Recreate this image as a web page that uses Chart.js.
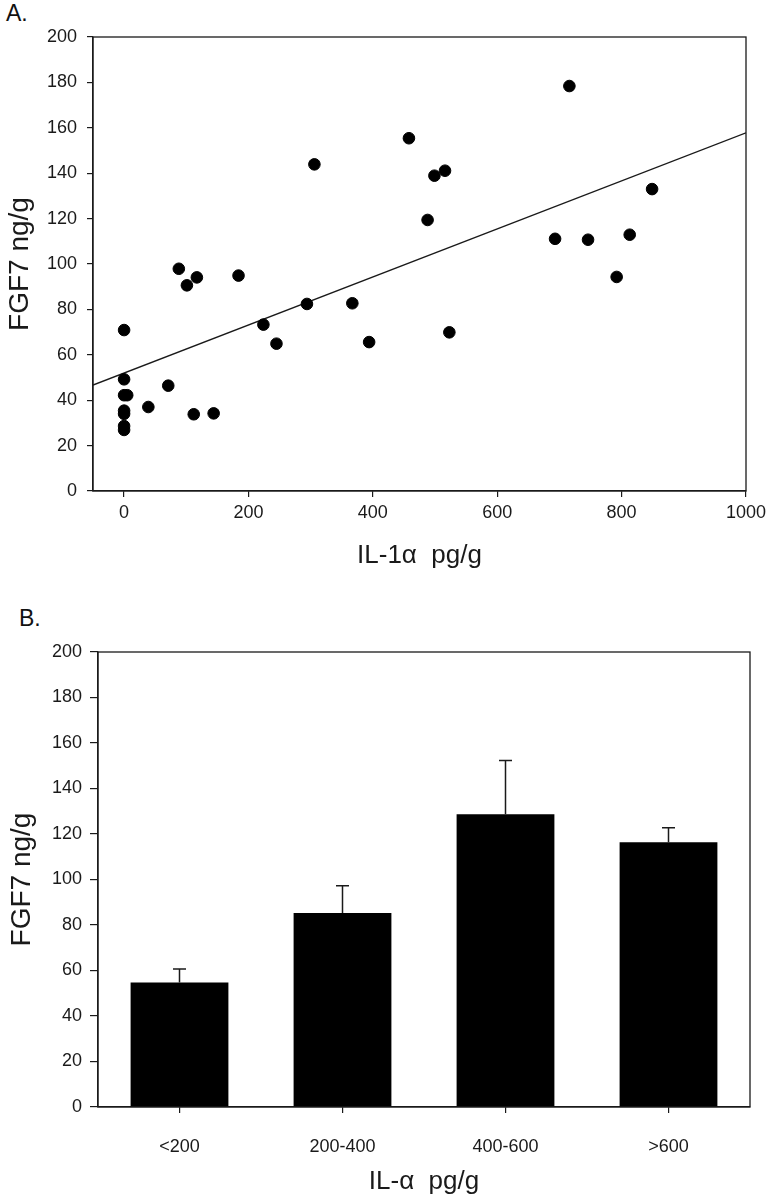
<!DOCTYPE html>
<html>
<head>
<meta charset="utf-8">
<script src="https://cdn.jsdelivr.net/npm/chart.js@4"></script>
<style>
  body { margin: 0; background: #fff; }
  #wrap { position: relative; width: 773px; height: 1199px; }
  canvas { position: absolute; left: 0; }
  .tag { position: absolute; font: 23px "Liberation Sans", Arial, sans-serif; line-height: 1; color: #111; }
</style>
</head>
<body>
<div id="wrap">
  <div class="tag" style="left:6px; top:2px">A.</div>
  <canvas id="chartA" width="773" height="590" style="top:0"></canvas>
  <div class="tag" style="left:19px; top:607px">B.</div>
  <canvas id="chartB" width="773" height="609" style="top:590px"></canvas>
</div>
<script>
// ── Panel A: IL-1α vs FGF7 scatter ──────────────────────────────────────────
const il1a = [0, 0, 0, 5, 0, 0, 0, 0,
              39, 71, 88, 101, 117, 112, 144, 184, 224, 245, 294, 306, 367, 394,
              458, 488, 499, 516, 523, 693, 716, 746, 792, 813, 849];
const fgf7 = [70.9, 49.2, 42.2, 42.2, 35.4, 34, 28.6, 26.9,
              37, 46.4, 97.9, 90.6, 94.1, 33.8, 34.2, 94.9, 73.3, 64.9, 82.4, 143.9, 82.7, 65.6,
              155.4, 119.4, 138.9, 141.1, 69.9, 111.1, 178.4, 110.7, 94.3, 112.9, 133];
// regression line end points
const fitX = [-50, 1000];
const fitY = [46.7, 157.8];
const xTicksA = [0, 200, 400, 600, 800, 1000];

// ── Panel B: binned means ± SEM ─────────────────────────────────────────────
const groups = ['<200', '200-400', '400-600', '>600'];
const means  = [54.7, 85.3, 128.7, 116.4];
const sems   = [6.0, 12.0, 23.6, 6.4];

const FONT = '"Liberation Sans", Arial, sans-serif';
const INK  = '#1a1a1a';

// box round the plot area
const framePlugin = {
    id: 'frame',
    afterDraw(chart) {
        const { ctx, chartArea: a } = chart;
        ctx.save();
        ctx.strokeStyle = INK;
        ctx.lineWidth = 1.3;
        ctx.strokeRect(a.left, a.top, a.right - a.left, a.bottom - a.top);
        ctx.restore();
    }
};

// upward-only error bars with a cap
const errorBarPlugin = {
    id: 'errorBars',
    afterDatasetsDraw(chart) {
        const { ctx } = chart;
        const y = chart.scales.y;
        ctx.save();
        ctx.strokeStyle = INK;
        ctx.lineWidth = 1.5;
        chart.getDatasetMeta(0).data.forEach((bar, i) => {
            const top = y.getPixelForValue(means[i] + sems[i]);
            ctx.beginPath();
            ctx.moveTo(bar.x, bar.y);
            ctx.lineTo(bar.x, top);
            ctx.moveTo(bar.x - 6.5, top);
            ctx.lineTo(bar.x + 6.5, top);
            ctx.stroke();
        });
        ctx.restore();
    }
};

const tickGrid = len => ({ drawOnChartArea: false, drawTicks: true, tickLength: len, color: INK, lineWidth: 1.2 });
const axisBorder = { display: true, color: INK, width: 1.3 };
const plain = v => String(v);

new Chart(document.getElementById('chartA'), {
    type: 'scatter',
    data: {
        datasets: [
            {
                data: il1a.map((x, i) => ({ x, y: fgf7[i] })),
                backgroundColor: '#000', borderColor: '#000',
                pointRadius: 5.8, pointHoverRadius: 5.8
            },
            {
                type: 'line',
                data: fitX.map((x, i) => ({ x, y: fitY[i] })),
                borderColor: INK, borderWidth: 1.4, pointRadius: 0, fill: false
            }
        ]
    },
    options: {
        responsive: false,
        animation: false,
        layout: { padding: { top: 37, right: 27, left: 0, bottom: 0 } },
        plugins: { legend: { display: false }, tooltip: { enabled: false } },
        scales: {
            x: {
                type: 'linear', min: -50, max: 1000,
                afterBuildTicks: s => { s.ticks = xTicksA.map(v => ({ value: v })); },
                afterFit: s => { s.height = 99; },
                grid: tickGrid(6), border: axisBorder,
                ticks: { color: INK, font: { family: FONT, size: 18 }, padding: 5, maxRotation: 0, callback: plain },
                title: { display: true, text: 'IL-1\u03b1  pg/g', color: INK,
                         font: { family: FONT, size: 26 }, padding: { top: 0, bottom: 19 } }
            },
            y: {
                min: 0, max: 200,
                afterFit: s => { s.width = 93; },
                grid: tickGrid(6), border: axisBorder,
                ticks: { stepSize: 20, color: INK, font: { family: FONT, size: 18 }, padding: 10, callback: plain },
                title: { display: true, text: 'FGF7 ng/g', color: INK,
                         font: { family: FONT, size: 28 }, padding: { top: 3, bottom: 0 } }
            }
        }
    },
    plugins: [framePlugin]
});

new Chart(document.getElementById('chartB'), {
    type: 'bar',
    data: {
        labels: groups,
        datasets: [{
            data: means,
            backgroundColor: '#000', borderWidth: 0,
            barPercentage: 0.6, categoryPercentage: 1.0
        }]
    },
    options: {
        responsive: false,
        animation: false,
        layout: { padding: { top: 62, right: 23, left: 0, bottom: 0 } },
        plugins: { legend: { display: false }, tooltip: { enabled: false } },
        scales: {
            x: {
                afterFit: s => { s.height = 92; },
                grid: Object.assign(tickGrid(6), { offset: false }), border: axisBorder,
                ticks: { color: INK, font: { family: FONT, size: 18 }, padding: 23, maxRotation: 0 },
                title: { display: true, text: 'IL-\u03b1  pg/g', color: INK,
                         font: { family: FONT, size: 26 }, padding: { top: 0, bottom: 2 } }
            },
            y: {
                min: 0, max: 200,
                afterFit: s => { s.width = 98; },
                grid: tickGrid(8), border: axisBorder,
                ticks: { stepSize: 20, color: INK, font: { family: FONT, size: 18 }, padding: 8, callback: plain },
                title: { display: true, text: 'FGF7 ng/g', color: INK,
                         font: { family: FONT, size: 28 }, padding: { top: 5, bottom: 0 } }
            }
        }
    },
    plugins: [framePlugin, errorBarPlugin]
});
</script>
</body>
</html>
